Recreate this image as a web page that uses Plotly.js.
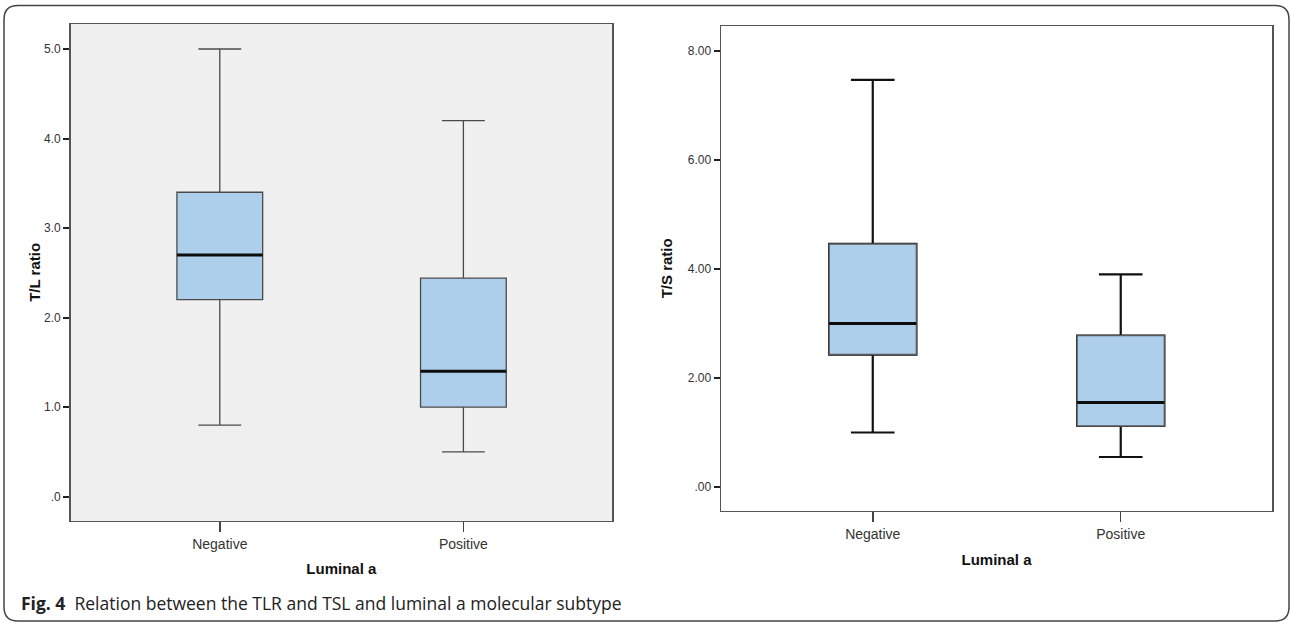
<!DOCTYPE html>
<html>
<head>
<meta charset="utf-8">
<script src="https://cdn.plot.ly/plotly-3.0.1.min.js"></script>
<style>
  html, body { margin: 0; padding: 0; background: #ffffff; }
  #chart { width: 1290px; height: 623px; }
</style>
</head>
<body>
<div id="chart"></div>
<script>
// ---- Data ----
const categories = ['Negative', 'Positive'];

// T/L ratio by Luminal a status
const tlrLowerFence = [0.80, 0.50];
const tlrQ1         = [2.20, 1.00];
const tlrMedian     = [2.70, 1.40];
const tlrQ3         = [3.40, 2.44];
const tlrUpperFence = [5.00, 4.20];

// T/S ratio by Luminal a status
const tsrLowerFence = [1.00, 0.55];
const tsrQ1         = [2.43, 1.12];
const tsrMedian     = [3.00, 1.55];
const tsrQ3         = [4.46, 2.78];
const tsrUpperFence = [7.47, 3.90];

const tlrTickVals = [0, 1, 2, 3, 4, 5];
const tlrTickText = ['.0', '1.0', '2.0', '3.0', '4.0', '5.0'];
const tsrTickVals = [0, 2, 4, 6, 8];
const tsrTickText = ['.00', '2.00', '4.00', '6.00', '8.00'];

const xTitle = 'Luminal a';
const yTitleLeft = 'T/L ratio';
const yTitleRight = 'T/S ratio';
const caption = '<b>Fig. 4</b>&nbsp;&nbsp;Relation between the TLR and TSL and luminal a molecular subtype';

// ---- Styles ----
const boxFill = '#aecfec';
const boxW = 0.352;
const tickFont = { family: 'Liberation Sans, Arial, sans-serif', size: 12, color: '#333333' };
const catFont  = { family: 'Liberation Sans, Arial, sans-serif', size: 14, color: '#333333' };
const titleFont = { family: 'Liberation Sans, Arial, sans-serif', size: 15, color: '#111111', weight: 'bold' };

const traces = [
  // Left panel: full box (thin grey outline & whiskers)
  {
    type: 'box', xaxis: 'x', yaxis: 'y', x: categories,
    lowerfence: tlrLowerFence, q1: tlrQ1, median: tlrMedian, q3: tlrQ3, upperfence: tlrUpperFence,
    width: boxW, whiskerwidth: 0.5, boxpoints: false,
    fillcolor: boxFill, line: { color: '#4a4a4a', width: 1.3 },
    showlegend: false, hoverinfo: 'y'
  },
  // Left panel: thick black median
  {
    type: 'box', xaxis: 'x', yaxis: 'y', x: categories,
    lowerfence: tlrMedian, q1: tlrMedian, median: tlrMedian, q3: tlrMedian, upperfence: tlrMedian,
    width: boxW, whiskerwidth: 0, boxpoints: false,
    fillcolor: 'rgba(0,0,0,0)', line: { color: '#0d0d0d', width: 3 },
    showlegend: false, hoverinfo: 'skip'
  },
  // Right panel: whiskers (black, thicker)
  {
    type: 'box', xaxis: 'x2', yaxis: 'y2', x: categories,
    lowerfence: tsrLowerFence, q1: tsrQ1, median: tsrMedian, q3: tsrQ3, upperfence: tsrUpperFence,
    width: boxW, whiskerwidth: 0.5, boxpoints: false,
    fillcolor: 'rgba(0,0,0,0)', line: { color: '#111111', width: 2.2 },
    showlegend: false, hoverinfo: 'y'
  },
  // Right panel: box body (grey outline)
  {
    type: 'box', xaxis: 'x2', yaxis: 'y2', x: categories,
    lowerfence: tsrQ1, q1: tsrQ1, median: tsrMedian, q3: tsrQ3, upperfence: tsrQ3,
    width: boxW, whiskerwidth: 0, boxpoints: false,
    fillcolor: boxFill, line: { color: '#5a5a5a', width: 1.4 },
    showlegend: false, hoverinfo: 'skip'
  },
  // Right panel: thick black median
  {
    type: 'box', xaxis: 'x2', yaxis: 'y2', x: categories,
    lowerfence: tsrMedian, q1: tsrMedian, median: tsrMedian, q3: tsrMedian, upperfence: tsrMedian,
    width: boxW, whiskerwidth: 0, boxpoints: false,
    fillcolor: 'rgba(0,0,0,0)', line: { color: '#0d0d0d', width: 3 },
    showlegend: false, hoverinfo: 'skip'
  }
];

const W = 1290, H = 623;
const px = v => v / W;
const py = v => (H - v) / H;

const commonX = {
  type: 'category', categoryorder: 'array', categoryarray: categories,
  range: [-0.612, 1.61], showgrid: false, zeroline: false,
  showline: true, mirror: true, linecolor: '#555555', linewidth: 1.5,
  ticks: 'outside', ticklen: 10, tickwidth: 1.5, tickcolor: '#444444',
  tickfont: catFont, fixedrange: true
};
const commonY = {
  showgrid: false, zeroline: false,
  showline: true, mirror: true, linecolor: '#555555', linewidth: 1.5,
  ticks: 'outside', ticklen: 6, tickwidth: 2, tickcolor: '#222222',
  tickfont: tickFont, tickmode: 'array', fixedrange: true
};

// rounded frame around the whole figure (paper coordinates)
const fx0 = px(4), fx1 = px(1289), fyT = py(5.5), fyB = py(621);
const rx = 14 / W, ry = 14 / H;
const framePath = `M ${fx0 + rx},${fyT} L ${fx1 - rx},${fyT} Q ${fx1},${fyT} ${fx1},${fyT - ry} ` +
  `L ${fx1},${fyB + ry} Q ${fx1},${fyB} ${fx1 - rx},${fyB} L ${fx0 + rx},${fyB} ` +
  `Q ${fx0},${fyB} ${fx0},${fyB + ry} L ${fx0},${fyT - ry} Q ${fx0},${fyT} ${fx0 + rx},${fyT} Z`;

const layout = {
  width: W, height: H,
  margin: { l: 0, r: 0, t: 0, b: 0 },
  paper_bgcolor: '#ffffff', plot_bgcolor: 'rgba(0,0,0,0)',
  showlegend: false, boxmode: 'overlay',
  xaxis: Object.assign({}, commonX, {
    domain: [px(70.7), px(612)], anchor: 'y',
    title: { text: xTitle, font: titleFont, standoff: 12 }
  }),
  yaxis: Object.assign({}, commonY, {
    domain: [py(520.7), py(24)], anchor: 'x',
    range: [-0.268, 5.279], tickvals: tlrTickVals, ticktext: tlrTickText,
    title: { text: yTitleLeft, font: titleFont, standoff: 0 }
  }),
  xaxis2: Object.assign({}, commonX, {
    domain: [px(721), px(1272)], anchor: 'y2',
    title: { text: xTitle, font: titleFont, standoff: 13 }
  }),
  yaxis2: Object.assign({}, commonY, {
    domain: [py(510.7), py(26)], anchor: 'x2',
    range: [-0.435, 8.459], tickvals: tsrTickVals, ticktext: tsrTickText,
    title: { text: yTitleRight, font: titleFont, standoff: 11 }
  }),
  shapes: [
    { type: 'rect', xref: 'x domain', yref: 'y domain', x0: 0, x1: 1, y0: 0, y1: 1,
      fillcolor: '#f0f0f0', line: { width: 0 }, layer: 'below' },
    { type: 'path', xref: 'paper', yref: 'paper', path: framePath,
      line: { color: '#444444', width: 1.5 }, fillcolor: 'rgba(0,0,0,0)', layer: 'above' }
  ],
  annotations: [
    { xref: 'paper', yref: 'paper', x: px(19), y: py(603), xanchor: 'left', yanchor: 'middle',
      showarrow: false, text: caption,
      font: { family: 'Open Sans, Noto Sans, sans-serif', size: 17.5, color: '#222222' } }
  ]
};

Plotly.newPlot('chart', traces, layout, { displayModeBar: false, staticPlot: true });
</script>
</body>
</html>
